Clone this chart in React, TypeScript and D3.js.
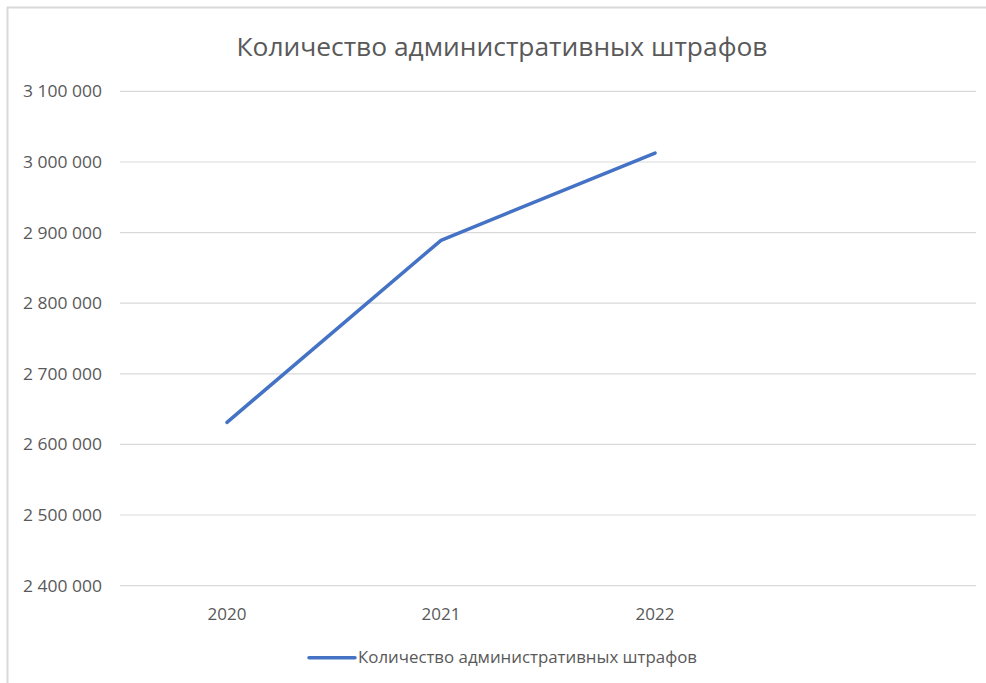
import React from "react";
import * as d3 from "d3";

const title = "Количество административных штрафов";
const seriesName = "Количество административных штрафов";
const categories = ["2020", "2021", "2022", ""];
const values = [2631300, 2889100, 3012700];
const yTicks = [2400000, 2500000, 2600000, 2700000, 2800000, 2900000, 3000000, 3100000];

const W = 986;
const H = 683;
const FONT = "'Open Sans', 'Noto Sans', sans-serif";
const TEXT = "#595959";

const fmt = (v: number) => d3.format(",")(v).replace(/,/g, " ");

export default function App() {
  const x = d3.scaleBand<string>().domain(categories).range([120, 976]);
  const y = d3.scaleLinear().domain([2400000, 3100000]).range([585.6, 91.4]);
  const cx = (c: string) => (x(c) ?? 0) + x.bandwidth() / 2;

  const line = d3
    .line<number>()
    .x((_, i) => cx(categories[i]))
    .y((d) => y(d));

  return (
    <div style={{ position: "absolute", left: 0, top: 0 }}>
      <svg width={W} height={H} style={{ display: "block", background: "#fff" }}>
        <rect x={0} y={0} width={W} height={H} fill="#fff" />
        {/* chart frame (top + left visible) */}
        <line x1={7} x2={W} y1={7.5} y2={7.5} stroke="#d9d9d9" strokeWidth={2} />
        <line x1={7.5} x2={7.5} y1={7} y2={H} stroke="#d9d9d9" strokeWidth={2} />

        <text
          x={502}
          y={56}
          textAnchor="middle"
          fontFamily={FONT}
          fontSize={25}
          fill={TEXT}
          textLength={531}
          lengthAdjust="spacingAndGlyphs"
        >
          {title}
        </text>

        {yTicks.map((t) => (
          <g key={t}>
            <line x1={120} x2={976} y1={y(t)} y2={y(t)} stroke="#d9d9d9" strokeWidth={1.2} />
            <text
              x={102}
              y={y(t) + 6}
              textAnchor="end"
              fontFamily={FONT}
              fontSize={16.5}
              fill={TEXT}
              textLength={79}
              lengthAdjust="spacingAndGlyphs"
            >
              {fmt(t)}
            </text>
          </g>
        ))}

        {categories.map((c) =>
          c ? (
            <text
              key={c}
              x={cx(c)}
              y={620}
              textAnchor="middle"
              fontFamily={FONT}
              fontSize={17}
              fill={TEXT}
            >
              {c}
            </text>
          ) : null
        )}

        <path
          d={line(values) ?? ""}
          fill="none"
          stroke="#4472C4"
          strokeWidth={3.5}
          strokeLinecap="round"
          strokeLinejoin="round"
        />

        <line x1={309} x2={355} y1={657.7} y2={657.7} stroke="#4472C4" strokeWidth={3.5} strokeLinecap="round" />
        <text
          x={358}
          y={663}
          fontFamily={FONT}
          fontSize={17}
          fill={TEXT}
          textLength={339}
          lengthAdjust="spacingAndGlyphs"
        >
          {seriesName}
        </text>
      </svg>
    </div>
  );
}
